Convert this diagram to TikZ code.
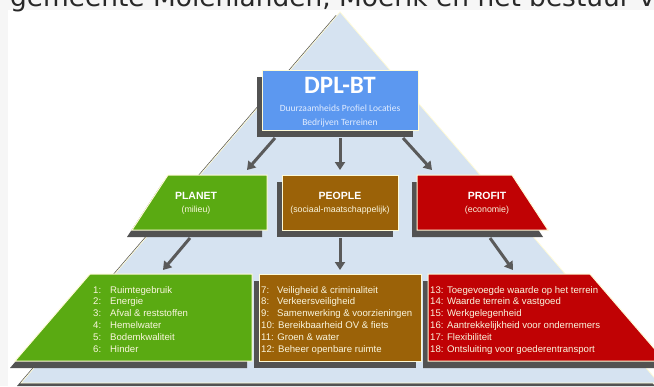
\documentclass[tikz,border=0pt]{standalone}
\usepackage{fontspec}
\setmainfont{Liberation Sans}
\newfontfamily\calib{Carlito}
\newfontfamily\dejavu{DejaVu Sans}
\usetikzlibrary{arrows.meta,shadows}
\definecolor{pagegray}{RGB}{246,246,246}
\definecolor{toptext}{RGB}{40,40,40}
\definecolor{tri}{RGB}{214,227,241}
\definecolor{cream}{RGB}{255,251,215}
\definecolor{shadowc}{RGB}{82,82,82}
\definecolor{dplblue}{RGB}{92,152,240}
\definecolor{dplsub}{RGB}{225,236,255}
\definecolor{planetc}{RGB}{90,170,18}
\definecolor{peoplec}{RGB}{155,98,8}
\definecolor{profitc}{RGB}{192,2,4}
\definecolor{arrowc}{RGB}{90,90,90}
\definecolor{listc}{RGB}{250,246,222}
\tikzset{
  shad/.style={drop shadow={shadow xshift=-5pt,shadow yshift=-7pt,fill=shadowc,opacity=1}},
  layer/.style={shad,draw=cream,line width=1pt},
  conn/.style={draw=arrowc,line width=3pt,-{Triangle[length=8pt,width=10pt]}},
  ttl/.style={font=\bfseries\fontsize{10.5}{12}\selectfont,text=white,inner sep=0pt,anchor=base},
  sub/.style={font=\fontsize{8.8}{10}\selectfont,text=listc,inner sep=0pt,anchor=base},
  li/.style={font=\fontsize{9.6}{11}\selectfont,text=listc,inner sep=0pt,anchor=base west}
}
\begin{document}
\begin{tikzpicture}[x=1pt,y=-1pt]
\useasboundingbox (0,0) rectangle (654,386);
\clip (0,0) rectangle (654,386);
\fill[pagegray] (0,0) rectangle (654,386);
\fill[white] (8,10) rectangle (654,386);
\node[anchor=base west,font=\dejavu\fontsize{26.4}{26.4}\selectfont,text=toptext,inner sep=0pt] (head) at (10,6) {gemeente Molenlanden, Moerik en het bestuur v};
% pyramid background
\fill[shadowc] (336,15) -- (17,386) -- (655,386) -- cycle;
\filldraw[fill=tri,draw=cream,line width=0.8pt] (340,12) -- (21,383) -- (659,383) -- cycle;
% top box
\node[layer,fill=dplblue,minimum width=156pt,minimum height=60pt,inner sep=0pt] (dpl) at (340,100) {};
\node[font=\calib\bfseries\fontsize{25}{25}\selectfont,text=white,anchor=base,inner sep=0pt] (dpltitle) at (340,93) {DPL-BT};
\node[font=\calib\fontsize{9.5}{10}\selectfont,text=dplsub,anchor=base,inner sep=0pt] (dplsub1) at (340,111) {Duurzaamheids Profiel Locaties};
\node[font=\calib\fontsize{9.5}{10}\selectfont,text=dplsub,anchor=base,inner sep=0pt] (dplsub2) at (340,125) {Bedrijven Terreinen};
% middle row
\path[layer,fill=planetc] (168,175) -- (267,175) -- (267,230) -- (132,230) -- cycle;
\path[layer,fill=peoplec] (282,175) rectangle (398,230);
\path[layer,fill=profitc] (417,175) -- (512,175) -- (548,230) -- (417,230) -- cycle;
\node[ttl] (planet) at (196,199) {PLANET};
\node[sub] (planetsub) at (196,212) {(milieu)};
\node[ttl] (people) at (340,199) {PEOPLE};
\node[sub] (peoplesub) at (340,212) {(sociaal-maatschappelijk)};
\node[ttl] (profit) at (487,199) {PROFIT};
\node[sub] (profitsub) at (487,212) {(economie)};
% bottom row
\path[layer,fill=planetc] (90,274) -- (252,274) -- (252,361) -- (15,361) -- cycle;
\path[layer,fill=peoplec] (259,274) rectangle (421,361);
\path[layer,fill=profitc] (428,274) -- (590,274) -- (665,361) -- (428,361) -- cycle;
% arrows
\coordinate (d1) at (275,138); \coordinate (p1) at (247,170);
\coordinate (d2) at (340,138); \coordinate (p2) at (340,170);
\coordinate (d3) at (403,138); \coordinate (p3) at (432,170);
\coordinate (m1) at (190,238); \coordinate (b1) at (163,270);
\coordinate (m2) at (340,238); \coordinate (b2) at (340,270);
\coordinate (m3) at (490,238); \coordinate (b3) at (513,270);
\draw[conn] (d1) -- (p1);
\draw[conn] (d2) -- (p2);
\draw[conn] (d3) -- (p3);
\draw[conn] (m1) -- (b1);
\draw[conn] (m2) -- (b2);
\draw[conn] (m3) -- (b3);
% lists
\foreach \n/\t [count=\i from 0] in {1/Ruimtegebruik,2/Energie,3/Afval \& reststoffen,4/Hemelwater,5/Bodemkwaliteit,6/Hinder}{
  \node[li] (gn\i) at (93,293+11.9*\i) {\n:};
  \node[li] (gt\i) at (110,293+11.9*\i) {\t};
}
\foreach \n/\t [count=\i from 0] in {7/Veiligheid \& criminaliteit,8/Verkeersveiligheid,9/Samenwerking \& voorzieningen}{
  \node[li] (bn\i) at (261,293+11.9*\i) {\n:};
  \node[li] (bt\i) at (277,293+11.9*\i) {\t};
}
\foreach \t [count=\i from 3] in {10: Bereikbaarheid OV \& fiets,11: Groen \& water,12: Beheer openbare ruimte}{
  \node[li] (bl\i) at (261,293+11.9*\i) {\t};
}
\foreach \t [count=\i from 0] in {13: Toegevoegde waarde op het terrein,14: Waarde terrein \& vastgoed,15: Werkgelegenheid,16: Aantrekkelijkheid voor ondernemers,17: Flexibiliteit,18: Ontsluiting voor goederentransport}{
  \node[li] (rl\i) at (430,293+11.9*\i) {\t};
}
\end{tikzpicture}
\end{document}
